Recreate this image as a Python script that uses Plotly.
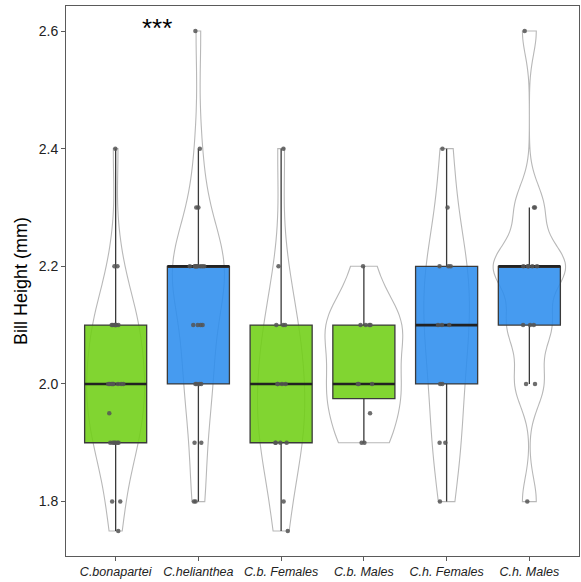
import numpy as np
import plotly.graph_objects as go

# ---- data ----
categories = ["C.bonapartei", "C.helianthea", "C.b. Females", "C.b. Males", "C.h. Females", "C.h. Males"]
species = ["bonapartei", "helianthea", "bonapartei", "bonapartei", "helianthea", "helianthea"]

bill_bonapartei = [1.75, 1.8, 1.8, 1.9, 1.9, 1.9, 1.9, 1.9, 1.9, 1.95,
                   2.0, 2.0, 2.0, 2.0, 2.0, 2.0, 2.0, 2.0,
                   2.1, 2.1, 2.1, 2.1, 2.1, 2.1, 2.1, 2.2, 2.2, 2.4]
bill_helianthea = [1.8, 1.8, 1.9, 1.9, 2.0, 2.0, 2.0, 2.0, 2.1, 2.1, 2.1, 2.1,
                   2.2, 2.2, 2.2, 2.2, 2.2, 2.2, 2.2, 2.2, 2.2, 2.3, 2.3, 2.4, 2.6]
bill_cb_females = [1.75, 1.8, 1.9, 1.9, 1.9, 1.9, 2.0, 2.0, 2.0, 2.0, 2.1, 2.1, 2.1, 2.2, 2.4]
bill_cb_males = [1.9, 1.9, 1.95, 2.0, 2.0, 2.0, 2.1, 2.1, 2.1, 2.1, 2.2]
bill_ch_females = [1.8, 1.9, 1.9, 2.0, 2.0, 2.1, 2.1, 2.1, 2.2, 2.2, 2.2, 2.3, 2.4]
bill_ch_males = [1.8, 2.0, 2.0, 2.1, 2.1, 2.1, 2.2, 2.2, 2.2, 2.2, 2.2, 2.3, 2.3, 2.6]

groups = [bill_bonapartei, bill_helianthea, bill_cb_females, bill_cb_males, bill_ch_females, bill_ch_males]

y_ticks = [1.8, 2.0, 2.2, 2.4, 2.6]
y_ticklabels = ["1.8", "2.0", "2.2", "2.4", "2.6"]
signif_label = "***"

# ---- styles ----
violin_widths = [0.70, 0.63, 0.57, 0.94, 0.55, 0.87]   # max violin width per group (category units)
fill_colors = {"bonapartei": "rgba(111,207,21,0.88)", "helianthea": "rgba(44,141,238,0.88)"}
FONT = "Arial, Liberation Sans, sans-serif"


def box_stats(v):
    a = np.asarray(v, dtype=float)
    q1, med, q3 = np.percentile(a, [25, 50, 75])
    iqr = q3 - q1
    lo = a[a >= q1 - 1.5 * iqr - 1e-9].min()
    hi = a[a <= q3 + 1.5 * iqr + 1e-9].max()
    return q1, med, q3, lo, hi


def nrd0(v):
    a = np.asarray(v, dtype=float)
    sd = a.std(ddof=1)
    q1, q3 = np.percentile(a, [25, 75])
    lo = min(sd, (q3 - q1) / 1.34)
    if lo == 0:
        lo = sd if sd > 0 else 1.0
    return 0.9 * lo * len(a) ** (-0.2)


fig = go.Figure()

# violins (trimmed gaussian KDE)
for cat, vals, w in zip(categories, groups, violin_widths):
    fig.add_trace(go.Violin(
        x=[cat] * len(vals), y=vals,
        bandwidth=nrd0(vals), spanmode="hard",
        scalemode="width", width=w,
        line=dict(color="#B8B8B8", width=1.1),
        fillcolor="rgba(0,0,0,0)",
        points=False, box_visible=False, meanline_visible=False,
        hoverinfo="skip", showlegend=False,
    ))

# boxes
for sp in ["bonapartei", "helianthea"]:
    cats = [c for c, s in zip(categories, species) if s == sp]
    stats = [box_stats(g) for g, s in zip(groups, species) if s == sp]
    fig.add_trace(go.Box(
        x=cats,
        q1=[s[0] for s in stats], median=[s[1] for s in stats], q3=[s[2] for s in stats],
        lowerfence=[s[3] for s in stats], upperfence=[s[4] for s in stats],
        width=0.75, whiskerwidth=0, boxpoints=False,
        fillcolor=fill_colors[sp],
        line=dict(color="#3a3a3a", width=1.3),
        hoverinfo="skip", showlegend=False,
    ))

# thick median bars
meds = [box_stats(g)[1] for g in groups]
fig.add_trace(go.Box(
    x=categories, q1=meds, median=meds, q3=meds, lowerfence=meds, upperfence=meds,
    width=0.75, whiskerwidth=0, boxpoints=False,
    fillcolor="rgba(0,0,0,0)", line=dict(color="#222222", width=2.6),
    hoverinfo="skip", showlegend=False,
))

# jittered points
xs, ys = [], []
for cat, vals in zip(categories, groups):
    xs += [cat] * len(vals)
    ys += vals
fig.add_trace(go.Box(
    x=xs, y=ys, boxpoints="all", jitter=0.28, pointpos=0, width=0.75,
    fillcolor="rgba(0,0,0,0)", line=dict(width=0, color="rgba(0,0,0,0)"),
    marker=dict(color="rgba(85,85,85,0.85)", size=4.5),
    hoverinfo="skip", showlegend=False,
))

fig.add_annotation(
    x=0.5, y=2.6, xref="x", yref="y", text=signif_label, showarrow=False,
    font=dict(family=FONT, size=26, color="black"), yanchor="middle", yshift=3,
)

fig.update_layout(
    width=581, height=582,
    margin=dict(l=66, r=2, t=6, b=26),
    paper_bgcolor="white", plot_bgcolor="white",
    boxmode="overlay", violinmode="overlay",
    font=dict(family=FONT),
    xaxis=dict(
        type="category", categoryorder="array", categoryarray=categories,
        range=[-0.6, 5.6], showgrid=False, zeroline=False,
        showline=True, mirror=True, linecolor="#5a5a5a", linewidth=1,
        ticks="outside", ticklen=4, tickcolor="#5a5a5a",
        tickfont=dict(family=FONT, size=12.5, color="#222222", style="italic"),
    ),
    yaxis=dict(
        range=[1.7075, 2.6425], tickvals=y_ticks, ticktext=y_ticklabels,
        showgrid=False, zeroline=False,
        showline=True, mirror=True, linecolor="#5a5a5a", linewidth=1,
        ticks="outside", ticklen=4, tickcolor="#5a5a5a",
        tickfont=dict(family=FONT, size=14, color="#222222"),
        title=dict(text="Bill Height (mm)", font=dict(family=FONT, size=18, color="black"), standoff=6),
    ),
)

fig.write_html("out.html", config={"displayModeBar": False},
               post_script="document.body.style.margin='0px';")
